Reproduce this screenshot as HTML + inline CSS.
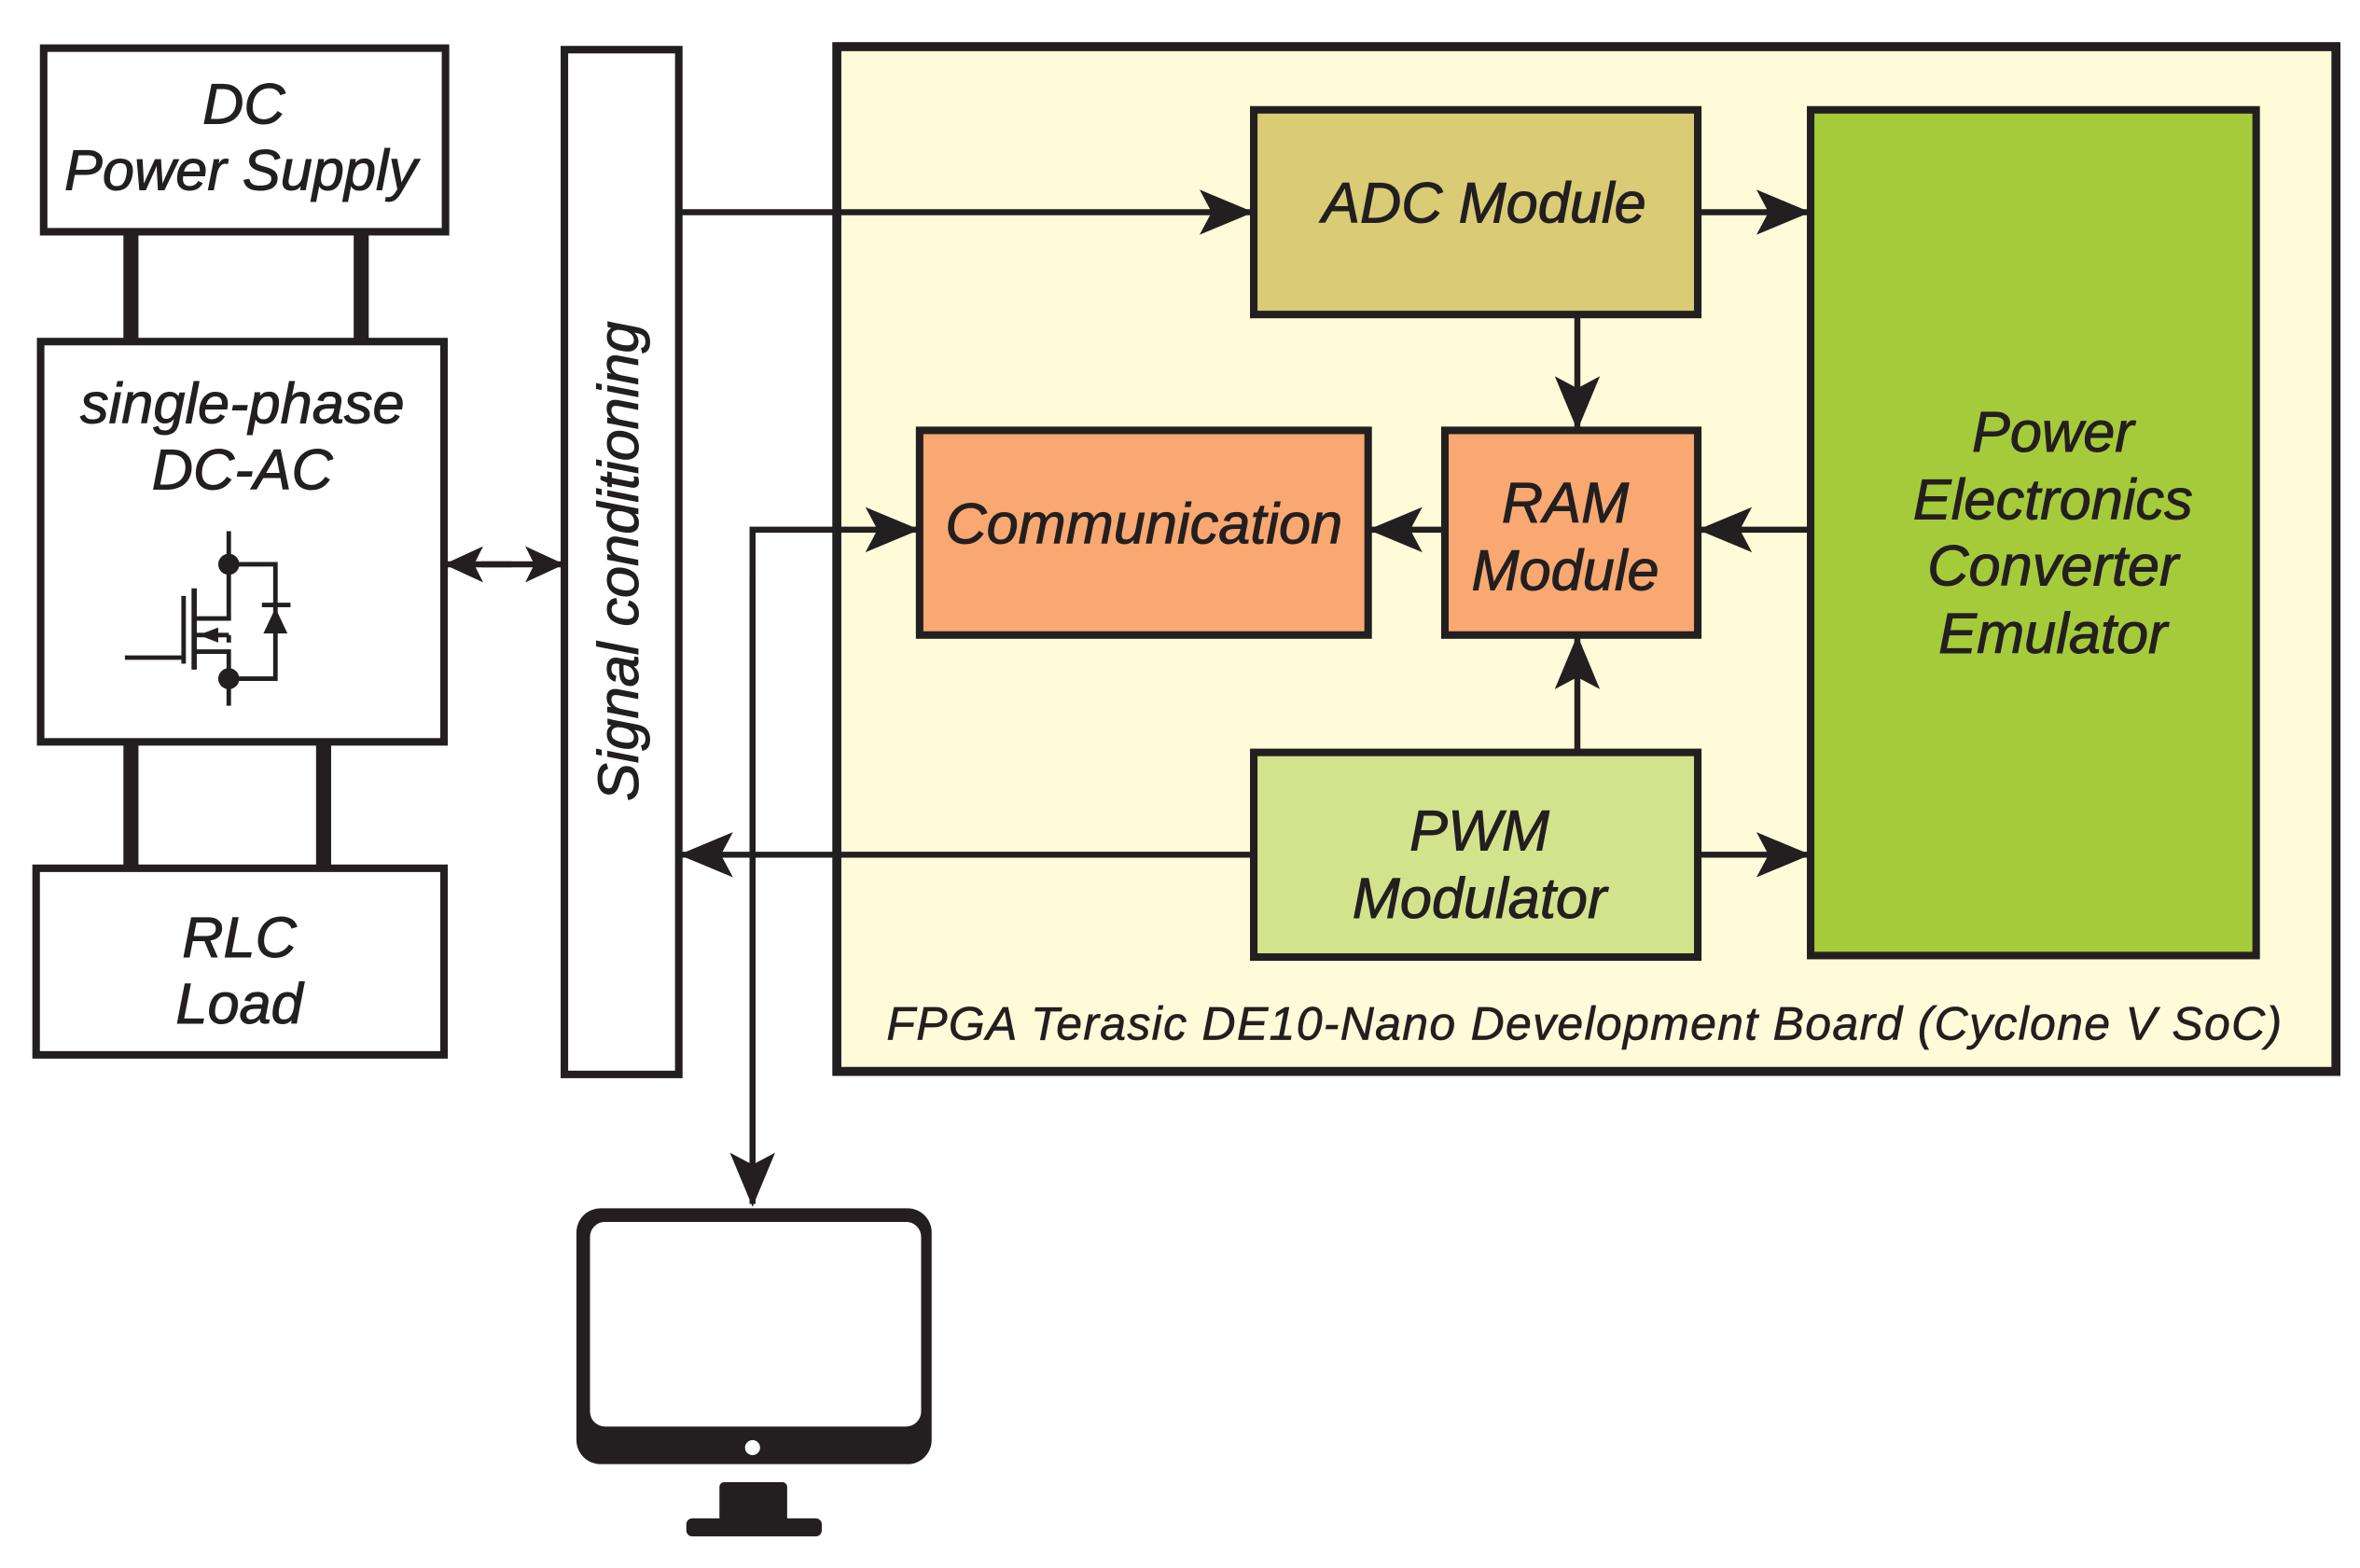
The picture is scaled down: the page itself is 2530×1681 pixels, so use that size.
<!DOCTYPE html>
<html><head><style>html,body{margin:0;padding:0;background:#fff}svg{display:block}</style></head>
<body>
<svg width="2530" height="1681" viewBox="0 0 1568 1042" preserveAspectRatio="none" xmlns="http://www.w3.org/2000/svg" font-family="Liberation Sans, sans-serif" font-style="italic" fill="#231f20">
<defs>
<marker id="a" markerWidth="36" markerHeight="30" refX="34" refY="15" orient="auto" markerUnits="userSpaceOnUse" viewBox="0 0 36 30"><path d="M0,0 L36,15 L0,30 L8,15 Z" fill="#231f20"/></marker>
<marker id="b" markerWidth="26" markerHeight="24" refX="24" refY="12" orient="auto" markerUnits="userSpaceOnUse" viewBox="0 0 26 24"><path d="M0,0 L26,12 L0,24 L6,12 Z" fill="#231f20"/></marker>
</defs>
<g stroke="#231f20" stroke-width="5" fill="#fff">
<rect x="29" y="32" width="267" height="122"/>
<rect x="27" y="227" width="268" height="266"/>
<rect x="24" y="577" width="271" height="124"/>
<rect x="375" y="33" width="76" height="681"/>
<rect x="556" y="31" width="996" height="681" fill="#fefbd9" stroke-width="6"/>
<rect x="833" y="73" width="295" height="136" fill="#d9cc75"/>
<rect x="1203" y="73" width="296" height="562" fill="#a6cb3a"/>
<rect x="611" y="286" width="298" height="136" fill="#f8a870"/>
<rect x="960" y="286" width="168" height="136" fill="#f8a870"/>
<rect x="833" y="500" width="295" height="136" fill="#d3e38c"/>
</g>
<g stroke="#231f20" stroke-width="10">
<line x1="87" y1="154" x2="87" y2="227"/><line x1="240" y1="154" x2="240" y2="227"/>
<line x1="87" y1="493" x2="87" y2="577"/><line x1="215" y1="493" x2="215" y2="577"/>
</g>
<g stroke="#231f20" stroke-width="4" fill="none">
<line x1="451" y1="141" x2="831" y2="141" marker-end="url(#a)"/>
<line x1="1128" y1="141" x2="1201" y2="141" marker-end="url(#a)"/>
<line x1="1048" y1="209" x2="1048" y2="284" marker-end="url(#a)"/>
<line x1="1203" y1="352" x2="1130" y2="352" marker-end="url(#a)"/>
<line x1="960" y1="352" x2="911" y2="352" marker-end="url(#a)"/>
<line x1="1048" y1="500" x2="1048" y2="424" marker-end="url(#a)"/>
<line x1="833" y1="568" x2="453" y2="568" marker-end="url(#a)"/>
<line x1="1128" y1="568" x2="1201" y2="568" marker-end="url(#a)"/>
<polyline points="500,780 500,352 609,352" marker-end="url(#a)"/>
<line x1="500" y1="380" x2="500" y2="800" marker-end="url(#a)"/>
<line x1="320" y1="375" x2="373" y2="375" marker-end="url(#b)"/>
<line x1="340" y1="375" x2="297" y2="375" marker-end="url(#b)"/>
</g>
<!-- MOSFET -->
<g stroke="#231f20" stroke-width="3" fill="none">
<line x1="152" y1="353" x2="152" y2="375"/>
<polyline points="152,375 183,375 183,451 152,451"/>
<polyline points="152,375 152,411 130,411"/>
<polyline points="152,451 152,433 130,433"/>
<line x1="152" y1="451" x2="152" y2="469"/>
<line x1="129" y1="391" x2="129" y2="445" stroke-width="3.5"/>
<line x1="122" y1="396" x2="122" y2="441"/>
<polyline points="83,437 122,437"/>
<line x1="174" y1="402" x2="193" y2="402"/>
<line x1="130" y1="422" x2="152" y2="422"/><polyline points="152,422 152,427"/>
</g>
<circle cx="152" cy="375" r="7"/><circle cx="152" cy="451" r="7"/>
<path d="M175,421 L191,421 L183,404 Z"/>
<path d="M132,422 L145,417 L145,427 Z"/>
<!-- monitor -->
<rect x="383" y="803" width="236" height="170" rx="16"/>
<rect x="392" y="812" width="220" height="136" rx="10" fill="#fff"/>
<circle cx="500" cy="962" r="5" fill="#fff"/>
<rect x="478" y="985" width="45" height="30" rx="3"/>
<rect x="456" y="1009" width="90" height="12" rx="4"/>
<g font-size="38" text-anchor="middle" stroke="#231f20" stroke-width="0.6">
<text x="162" y="82">DC</text>
<text x="160" y="126">Power Supply</text>
<text x="161" y="281">single-phase</text>
<text x="161" y="325">DC-AC</text>
<text x="159" y="636">RLC</text>
<text x="159" y="680">Load</text>
<text x="986" y="148">ADC Module</text>
<text x="760" y="361">Communication</text>
<text x="1040" y="347">RAM</text>
<text x="1040" y="392">Module</text>
<text x="983" y="565">PWM</text>
<text x="983" y="610">Modulator</text>
<text x="1364" y="300">Power</text>
<text x="1364" y="345">Electronics</text>
<text x="1364" y="389">Converter</text>
<text x="1364" y="434">Emulator</text>
<text transform="translate(424,373) rotate(-90)">Signal conditioning</text>
</g>
<text x="589" y="691" font-size="31" letter-spacing="0.8" stroke="#231f20" stroke-width="0.4">FPGA  Terasic DE10-Nano Development Board (Cyclone V SoC)</text>
</svg>
</body></html>
